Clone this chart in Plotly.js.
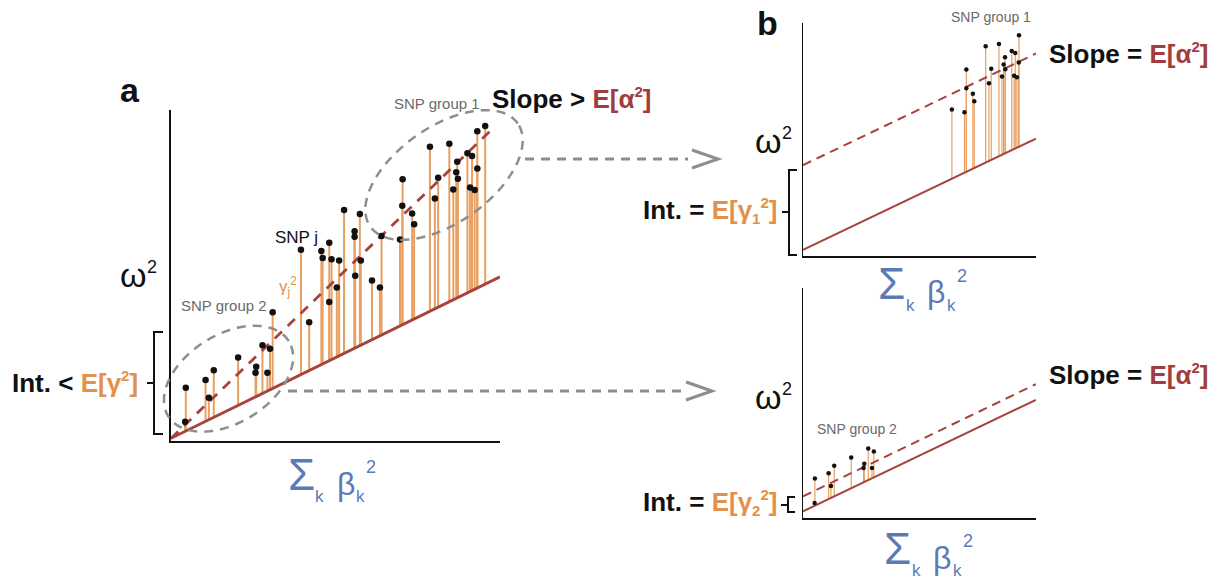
<!DOCTYPE html>
<html><head><meta charset="utf-8">
<script src="https://cdn.plot.ly/plotly-3.0.1.min.js"></script>
<style>body{margin:0;background:#fff}#chart{width:1224px;height:581px}</style>
</head><body><div id="chart"></div>
<script>
// ---------- data (arbitrary units, 0-100 on each axis) ----------
// Panel a: all SNPs
const aX = [4.5,4.3,10.5,11.5,13.0,20.4,25.9,25.7,27.8,29.3,30.1,30.9,39.5,42.0,45.7,46.1,48.1,48.1,48.8,50.4,51.1,52.6,55.8,55.8,56.0,57.4,57.7,61.1,63.5,64.0,69.6,70.3,70.4,73.3,73.9,78.7,80.2,81.2,84.6,85.8,86.7,87.0,87.2,90.1,91.5,90.9,92.3,93.1,93.1,95.5];
const aY = [16.1,5.8,18.4,13.1,21.4,25.2,22.4,20.6,28.9,20.6,27.9,38.9,57.8,35.9,57.4,55.3,59.9,42.0,54.9,46.4,54.5,69.8,63.4,61.7,49.9,68.6,54.5,48.5,46.4,61.9,60.9,71.1,79.1,68.7,65.5,88.9,73.3,79.5,89.8,76.0,81.2,84.4,79.2,86.9,86.1,76.6,75.8,82.3,93.6,95.2];
const aSolidX = [0, 100], aSolidY = [0.8, 49.6];
const aDashX = [0, 98], aDashY = [0.8, 94.6];

// Panel b: SNP group 1
const bX = [63.9,69.3,70.1,70.1,72.9,73.5,78.4,79.8,80.8,84.1,85.4,86.1,86.7,86.8,89.6,90.6,91.1,91.8,92.6,92.7];
const bY = [62.9,61.7,80.0,72.0,69.6,66.4,90.0,74.1,80.4,91.0,77.0,82.2,85.3,80.1,88.0,77.4,87.1,76.7,83.1,94.7];
const bSolidX = [0, 100], bSolidY = [2.6, 50.4];
const bDashX = [0, 100], bDashY = [39.0, 86.9];

// Panel c: SNP group 2
const cX = [5.1,5.0,11.0,12.0,13.4,20.7,26.0,26.3,28.0,29.6,30.4];
const cY = [17.2,6.5,19.5,13.9,22.7,26.3,21.7,23.6,30.2,21.7,28.9];
const cSolidX = [0, 100], cSolidY = [2.9, 51.4];
const cDashX = [0, 100], cDashY = [9.4, 58.2];

// ---------- styling ----------
const W = 1224, H = 581;
const X = p => p / W, Y = p => 1 - p / H;
const FONT = 'Liberation Sans, Arial, sans-serif';
const RED = '#a8423e', REDTXT = '#a33c3c', ORANGE = '#e8a062', ORTXT = '#e2914c',
      BLUE = '#5b7bb7', GRAY = '#8e8e8e', GTXT = '#6a6a6a';

function stems(xs, ys, lx, ly) {
  const sx = [], sy = [];
  const slope = (ly[1] - ly[0]) / (lx[1] - lx[0]);
  xs.forEach((x, i) => { sx.push(x, x, null); sy.push(ly[0] + slope * (x - lx[0]), ys[i], null); });
  return {sx, sy};
}

function panelTraces(xs, ys, sX, sY, dX, dY, ax, ay, st) {
  const s = stems(xs, ys, sX, sY);
  return [
    {x: s.sx, y: s.sy, xaxis: ax, yaxis: ay, mode: 'lines', line: {color: ORANGE, width: st.stem}, hoverinfo: 'skip'},
    {x: sX, y: sY, xaxis: ax, yaxis: ay, mode: 'lines', line: {color: RED, width: st.lw}, hoverinfo: 'skip'},
    {x: dX, y: dY, xaxis: ax, yaxis: ay, mode: 'lines', line: {color: RED, width: st.lw, dash: st.dash}, hoverinfo: 'skip'},
    {x: xs, y: ys, xaxis: ax, yaxis: ay, mode: 'markers', marker: {color: '#111', size: st.ms}, cliponaxis: false, hoverinfo: 'skip'}
  ];
}

const data = [].concat(
  panelTraces(aX, aY, aSolidX, aSolidY, aDashX, aDashY, 'x', 'y', {stem: 2, lw: 2.8, dash: '10px,8px', ms: 6.5}),
  panelTraces(bX, bY, bSolidX, bSolidY, bDashX, bDashY, 'x2', 'y2', {stem: 1.2, lw: 2, dash: '9px,6px', ms: 4.5}),
  panelTraces(cX, cY, cSolidX, cSolidY, cDashX, cDashY, 'x3', 'y3', {stem: 1.2, lw: 2, dash: '9px,6px', ms: 4.5})
);

const axBase = {showgrid: false, zeroline: false, showticklabels: false, ticks: '', showline: true,
                linecolor: '#111', fixedrange: true, range: [0, 100]};

// ---------- shapes ----------
function ellipsePath(cx, cy, a, b, deg) {
  const t = deg * Math.PI / 180;
  let d = '';
  for (let i = 0; i <= 90; i++) {
    const u = i / 90 * 2 * Math.PI;
    const px = cx + a * Math.cos(u) * Math.cos(t) - b * Math.sin(u) * Math.sin(t);
    const py = cy - (a * Math.cos(u) * Math.sin(t) + b * Math.sin(u) * Math.cos(t));
    d += (i ? ' L' : 'M') + X(px).toFixed(5) + ',' + Y(py).toFixed(5);
  }
  return d + ' Z';
}
function pth(pts) { return pts.map((p, i) => (i ? 'L' : 'M') + X(p[0]).toFixed(5) + ',' + Y(p[1]).toFixed(5)).join(' '); }
const P = {type: 'path', xref: 'paper', yref: 'paper'};
const shapes = [
  Object.assign({}, P, {path: ellipsePath(444, 175, 90, 48, 35), line: {color: GRAY, width: 2.5, dash: '9px,7px'}}),
  Object.assign({}, P, {path: ellipsePath(228.5, 378.7, 71, 44, 32), line: {color: GRAY, width: 2.5, dash: '9px,7px'}}),
  // arrows
  {type: 'line', xref: 'paper', yref: 'paper', x0: X(525), y0: Y(159), x1: X(688), y1: Y(159), line: {color: GRAY, width: 3, dash: '9px,7px'}},
  Object.assign({}, P, {path: pth([[692,150],[718,159],[692,168]]), line: {color: GRAY, width: 3}}),
  {type: 'line', xref: 'paper', yref: 'paper', x0: X(288), y0: Y(391), x1: X(682), y1: Y(391), line: {color: GRAY, width: 3, dash: '9px,7px'}},
  Object.assign({}, P, {path: pth([[686,382],[712,391],[686,400]]), line: {color: GRAY, width: 3}}),
  // brackets
  Object.assign({}, P, {path: pth([[163,332],[154,332],[154,434],[163,434]]), line: {color: '#111', width: 2}}),
  Object.assign({}, P, {path: pth([[147,383],[154,383]]), line: {color: '#111', width: 2}}),
  Object.assign({}, P, {path: pth([[797,170],[789,170],[789,255],[797,255]]), line: {color: '#111', width: 2}}),
  Object.assign({}, P, {path: pth([[782,212],[789,212]]), line: {color: '#111', width: 2}}),
  Object.assign({}, P, {path: pth([[795,497],[788,497],[788,512],[795,512]]), line: {color: '#111', width: 2}}),
  Object.assign({}, P, {path: pth([[781,505],[788,505]]), line: {color: '#111', width: 2}})
];

// ---------- annotations ----------
function ann(x, y, text, size, color, xanchor) {
  return {xref: 'paper', yref: 'paper', x: X(x), y: Y(y), text: text, showarrow: false,
          xanchor: xanchor || 'center', yanchor: 'middle', borderpad: 0,
          font: {family: FONT, size: size, color: color}};
}
function sigmaLabel(cx, cy) {
  return [
    ann(cx, cy, 'Σ', 44, BLUE),
    ann(cx + 18.5, cy + 22, 'k', 17, BLUE),
    ann(cx + 44.8, cy + 9.5, 'β', 32, BLUE),
    ann(cx + 59.5, cy + 22, 'k', 17, BLUE),
    ann(cx + 70.3, cy - 7.5, '2', 18, BLUE)
  ];
}
function omegaLabel(cx, cy) {
  return [ann(cx, cy, 'ω', 34, '#111'), ann(cx + 18, cy - 8, '2', 18, '#111')];
}
const SM = s => '<span style="font-size:15px">' + s + '</span>';
const slopeEq = '<b>Slope = <span style="color:' + REDTXT + '">E[α<sup>' + SM('2') + '</sup>]</span></b>';
const annotations = [].concat(
  [
    ann(130, 90, '<b>a</b>', 34, '#111'),
    ann(767, 23, '<b>b</b>', 34, '#111'),
    ann(436.5, 103.5, 'SNP group 1', 15, GTXT),
    ann(223.5, 305, 'SNP group 2', 15, GTXT),
    ann(296, 237, 'SNP j', 17, '#111'),
    ann(288, 287, 'γ<sub>j</sub><sup>2</sup>', 17, ORTXT),
    ann(491, 98, '<b>Slope &gt; <span style="color:' + REDTXT + '">E[α<sup>' + SM('2') + '</sup>]</span></b>', 26, '#111', 'left'),
    ann(11, 382, '<b>Int. &lt; <span style="color:' + ORTXT + '">E[γ<sup>' + SM('2') + '</sup>]</span></b>', 26, '#111', 'left'),
    ann(991, 17, 'SNP group 1', 14, GTXT),
    ann(1048, 53, slopeEq, 26, '#111', 'left'),
    ann(642, 210, '<b>Int. = <span style="color:' + ORTXT + '">E[γ<sub>' + SM('1') + '</sub><sup>' + SM('2') + '</sup>]</span></b>', 26, '#111', 'left'),
    ann(856.5, 428.5, 'SNP group 2', 14, GTXT),
    ann(1048, 374, slopeEq, 26, '#111', 'left'),
    ann(642, 502, '<b>Int. = <span style="color:' + ORTXT + '">E[γ<sub>' + SM('2') + '</sub><sup>' + SM('2') + '</sup>]</span></b>', 26, '#111', 'left')
  ],
  sigmaLabel(301, 474), sigmaLabel(891.5, 283), sigmaLabel(897.5, 548),
  omegaLabel(133.5, 275), omegaLabel(768.7, 141), omegaLabel(768.7, 397)
);

const layout = {
  width: W, height: H, margin: {l: 0, r: 0, t: 0, b: 0},
  paper_bgcolor: '#fff', plot_bgcolor: 'rgba(0,0,0,0)', showlegend: false,
  font: {family: FONT},
  xaxis: Object.assign({}, axBase, {domain: [X(171), X(500)], anchor: 'y', linewidth: 2}),
  yaxis: Object.assign({}, axBase, {domain: [Y(441), Y(110)], anchor: 'x', linewidth: 2}),
  xaxis2: Object.assign({}, axBase, {domain: [X(803), X(1036)], anchor: 'y2', linewidth: 1.5}),
  yaxis2: Object.assign({}, axBase, {domain: [Y(256), Y(23)], anchor: 'x2', linewidth: 1.5}),
  xaxis3: Object.assign({}, axBase, {domain: [X(803), X(1036)], anchor: 'y3', linewidth: 1.5}),
  yaxis3: Object.assign({}, axBase, {domain: [Y(518), Y(288)], anchor: 'x3', linewidth: 1.5}),
  shapes: shapes, annotations: annotations
};
Plotly.newPlot('chart', data, layout, {displayModeBar: false, staticPlot: true});
</script></body></html>
